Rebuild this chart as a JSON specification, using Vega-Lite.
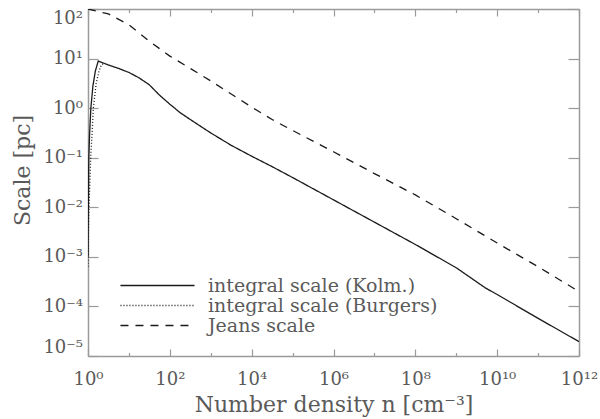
{
  "$schema": "https://vega.github.io/schema/vega-lite/v6.json",
  "autosize": {"type": "none"},
  "width": 491,
  "height": 347,
  "padding": {"left": 88, "top": 9, "right": 21, "bottom": 63},
  "config": {
    "view": {"stroke": null},
    "font": "DejaVu Serif",
    "axis": {"domainColor": "#9a9a9a", "domainWidth": 1.5, "tickColor": "#9a9a9a", "tickWidth": 1.2, "labelColor": "#5a5a5a", "titleColor": "#5a5a5a", "labelFont": "DejaVu Serif", "titleFont": "DejaVu Serif", "labelFontSize": 18, "titleFontSize": 22, "titleFontWeight": "normal", "grid": false}
  },
  "data": {"values": [
    {"n": 1, "s": 0.001, "series": "integral scale (Kolm.)"},
    {"n": 1.0069, "s": 0.003162, "series": "integral scale (Kolm.)"},
    {"n": 1.0186, "s": 0.01, "series": "integral scale (Kolm.)"},
    {"n": 1.0471, "s": 0.1, "series": "integral scale (Kolm.)"},
    {"n": 1.0965, "s": 0.3162, "series": "integral scale (Kolm.)"},
    {"n": 1.1749, "s": 1, "series": "integral scale (Kolm.)"},
    {"n": 1.318, "s": 2.818, "series": "integral scale (Kolm.)"},
    {"n": 1.5136, "s": 5.623, "series": "integral scale (Kolm.)"},
    {"n": 1.7783, "s": 8.913, "series": "integral scale (Kolm.)"},
    {"n": 3.1623, "s": 7.413, "series": "integral scale (Kolm.)"},
    {"n": 5.623, "s": 6.31, "series": "integral scale (Kolm.)"},
    {"n": 10, "s": 5.248, "series": "integral scale (Kolm.)"},
    {"n": 17.78, "s": 4.074, "series": "integral scale (Kolm.)"},
    {"n": 31.62, "s": 2.951, "series": "integral scale (Kolm.)"},
    {"n": 56.23, "s": 1.82, "series": "integral scale (Kolm.)"},
    {"n": 100, "s": 1.202, "series": "integral scale (Kolm.)"},
    {"n": 177.8, "s": 0.8128, "series": "integral scale (Kolm.)"},
    {"n": 316.2, "s": 0.5888, "series": "integral scale (Kolm.)"},
    {"n": 1000, "s": 0.3162, "series": "integral scale (Kolm.)"},
    {"n": 3162, "s": 0.1778, "series": "integral scale (Kolm.)"},
    {"n": 10000, "s": 0.1072, "series": "integral scale (Kolm.)"},
    {"n": 31623, "s": 0.06607, "series": "integral scale (Kolm.)"},
    {"n": 100000, "s": 0.03981, "series": "integral scale (Kolm.)"},
    {"n": 1000000, "s": 0.01413, "series": "integral scale (Kolm.)"},
    {"n": 10000000, "s": 0.005012, "series": "integral scale (Kolm.)"},
    {"n": 100000000, "s": 0.001778, "series": "integral scale (Kolm.)"},
    {"n": 1000000000, "s": 0.0006026, "series": "integral scale (Kolm.)"},
    {"n": 5012000000, "s": 0.0002399, "series": "integral scale (Kolm.)"},
    {"n": 10000000000, "s": 0.0001738, "series": "integral scale (Kolm.)"},
    {"n": 100000000000, "s": 0.00005754, "series": "integral scale (Kolm.)"},
    {"n": 1000000000000, "s": 0.0000195, "series": "integral scale (Kolm.)"},
    {"n": 1, "s": 0.000631, "series": "integral scale (Burgers)"},
    {"n": 1.0116, "s": 0.001, "series": "integral scale (Burgers)"},
    {"n": 1.0233, "s": 0.003162, "series": "integral scale (Burgers)"},
    {"n": 1.0593, "s": 0.01, "series": "integral scale (Burgers)"},
    {"n": 1.1641, "s": 0.1, "series": "integral scale (Burgers)"},
    {"n": 1.2589, "s": 0.3162, "series": "integral scale (Burgers)"},
    {"n": 1.349, "s": 1, "series": "integral scale (Burgers)"},
    {"n": 1.585, "s": 3.162, "series": "integral scale (Burgers)"},
    {"n": 1.862, "s": 5.623, "series": "integral scale (Burgers)"},
    {"n": 2.138, "s": 7.586, "series": "integral scale (Burgers)"},
    {"n": 2.512, "s": 7.943, "series": "integral scale (Burgers)"},
    {"n": 1, "s": 100, "series": "Jeans scale"},
    {"n": 3.162, "s": 79.43, "series": "Jeans scale"},
    {"n": 10, "s": 47.86, "series": "Jeans scale"},
    {"n": 31.62, "s": 22.39, "series": "Jeans scale"},
    {"n": 100, "s": 11.22, "series": "Jeans scale"},
    {"n": 316.2, "s": 6.31, "series": "Jeans scale"},
    {"n": 1000, "s": 3.548, "series": "Jeans scale"},
    {"n": 10000, "s": 1.047, "series": "Jeans scale"},
    {"n": 31623, "s": 0.5888, "series": "Jeans scale"},
    {"n": 100000, "s": 0.3548, "series": "Jeans scale"},
    {"n": 1000000, "s": 0.1318, "series": "Jeans scale"},
    {"n": 10000000, "s": 0.04786, "series": "Jeans scale"},
    {"n": 100000000, "s": 0.01778, "series": "Jeans scale"},
    {"n": 1000000000, "s": 0.005888, "series": "Jeans scale"},
    {"n": 10000000000, "s": 0.001905, "series": "Jeans scale"},
    {"n": 100000000000, "s": 0.000631, "series": "Jeans scale"},
    {"n": 1000000000000, "s": 0.0001995, "series": "Jeans scale"}
  ]},
  "layer": [
    {
      "mark": {"type": "line", "color": "#1a1a1a", "strokeWidth": 1.3, "clip": true},
      "encoding": {
        "x": {"field": "n", "type": "quantitative",
          "scale": {"type": "log", "domain": [1, 1000000000000], "nice": false},
          "axis": {"orient": "bottom", "title": "Number density n [cm⁻³]", "titlePadding": 6,
            "values": [1,10,100,1000,10000,100000,1000000,10000000,100000000,1000000000,10000000000,100000000000,1000000000000],
            "tickSize": {"condition": {"test": "round(log(datum.value)/LN10) % 2 == 1", "value": -3.5}, "value": -7},
            "labelPadding": 21,
            "labelFlush": false,
            "labelExpr": "round(log(datum.value)/LN10) % 2 == 1 ? '' : '10' + ['⁰','¹','²','³','⁴','⁵','⁶','⁷','⁸','⁹','¹⁰','¹¹','¹²'][round(log(datum.value)/LN10)]"}},
        "y": {"field": "s", "type": "quantitative",
          "scale": {"type": "log", "domain": [0.00001, 100], "nice": false},
          "axis": {"orient": "left", "title": "Scale [pc]", "titlePadding": 8, "titleY": 161,
            "values": [0.00001,0.0001,0.001,0.01,0.1,1,10,100],
            "tickSize": -10, "labelPadding": 15.5, "labelFlush": true,
            "labelExpr": "'10' + (round(log(datum.value)/LN10) < 0 ? '⁻' : '') + ['⁰','¹','²','³','⁴','⁵','⁶','⁷','⁸','⁹'][abs(round(log(datum.value)/LN10))]"}},
        "strokeDash": {"field": "series", "type": "nominal",
          "scale": {"domain": ["integral scale (Kolm.)", "integral scale (Burgers)", "Jeans scale"], "range": [[1,0],[1,2],[8,7]]},
          "legend": {"orient": "none", "legendX": 60, "legendY": 267, "title": null, "symbolType": "M-5.29,0H5.29", "symbolSize": 196, "symbolStrokeColor": "#1a1a1a", "symbolStrokeWidth": 1.3, "labelFont": "DejaVu Serif", "labelFontSize": 19, "labelColor": "#5a5a5a", "labelOffset": 41, "rowPadding": 0, "labelLimit": 400, "padding": 0}}
      }
    },
    {
      "mark": {"type": "line", "opacity": 0},
      "encoding": {
        "x": {"field": "n", "type": "quantitative",
          "axis": {"orient": "top", "title": null, "labels": false,
            "values": [1,10,100,1000,10000,100000,1000000,10000000,100000000,1000000000,10000000000,100000000000,1000000000000],
            "tickSize": {"condition": {"test": "round(log(datum.value)/LN10) % 2 == 1", "value": -3.5}, "value": -7}}},
        "y": {"field": "s", "type": "quantitative",
          "axis": {"orient": "right", "title": null, "labels": false,
            "values": [0.00001,0.0001,0.001,0.01,0.1,1,10,100], "tickSize": -11}},
        "detail": {"field": "series"}
      }
    }
  ],
  "resolve": {"axis": {"x": "independent", "y": "independent"}}
}
